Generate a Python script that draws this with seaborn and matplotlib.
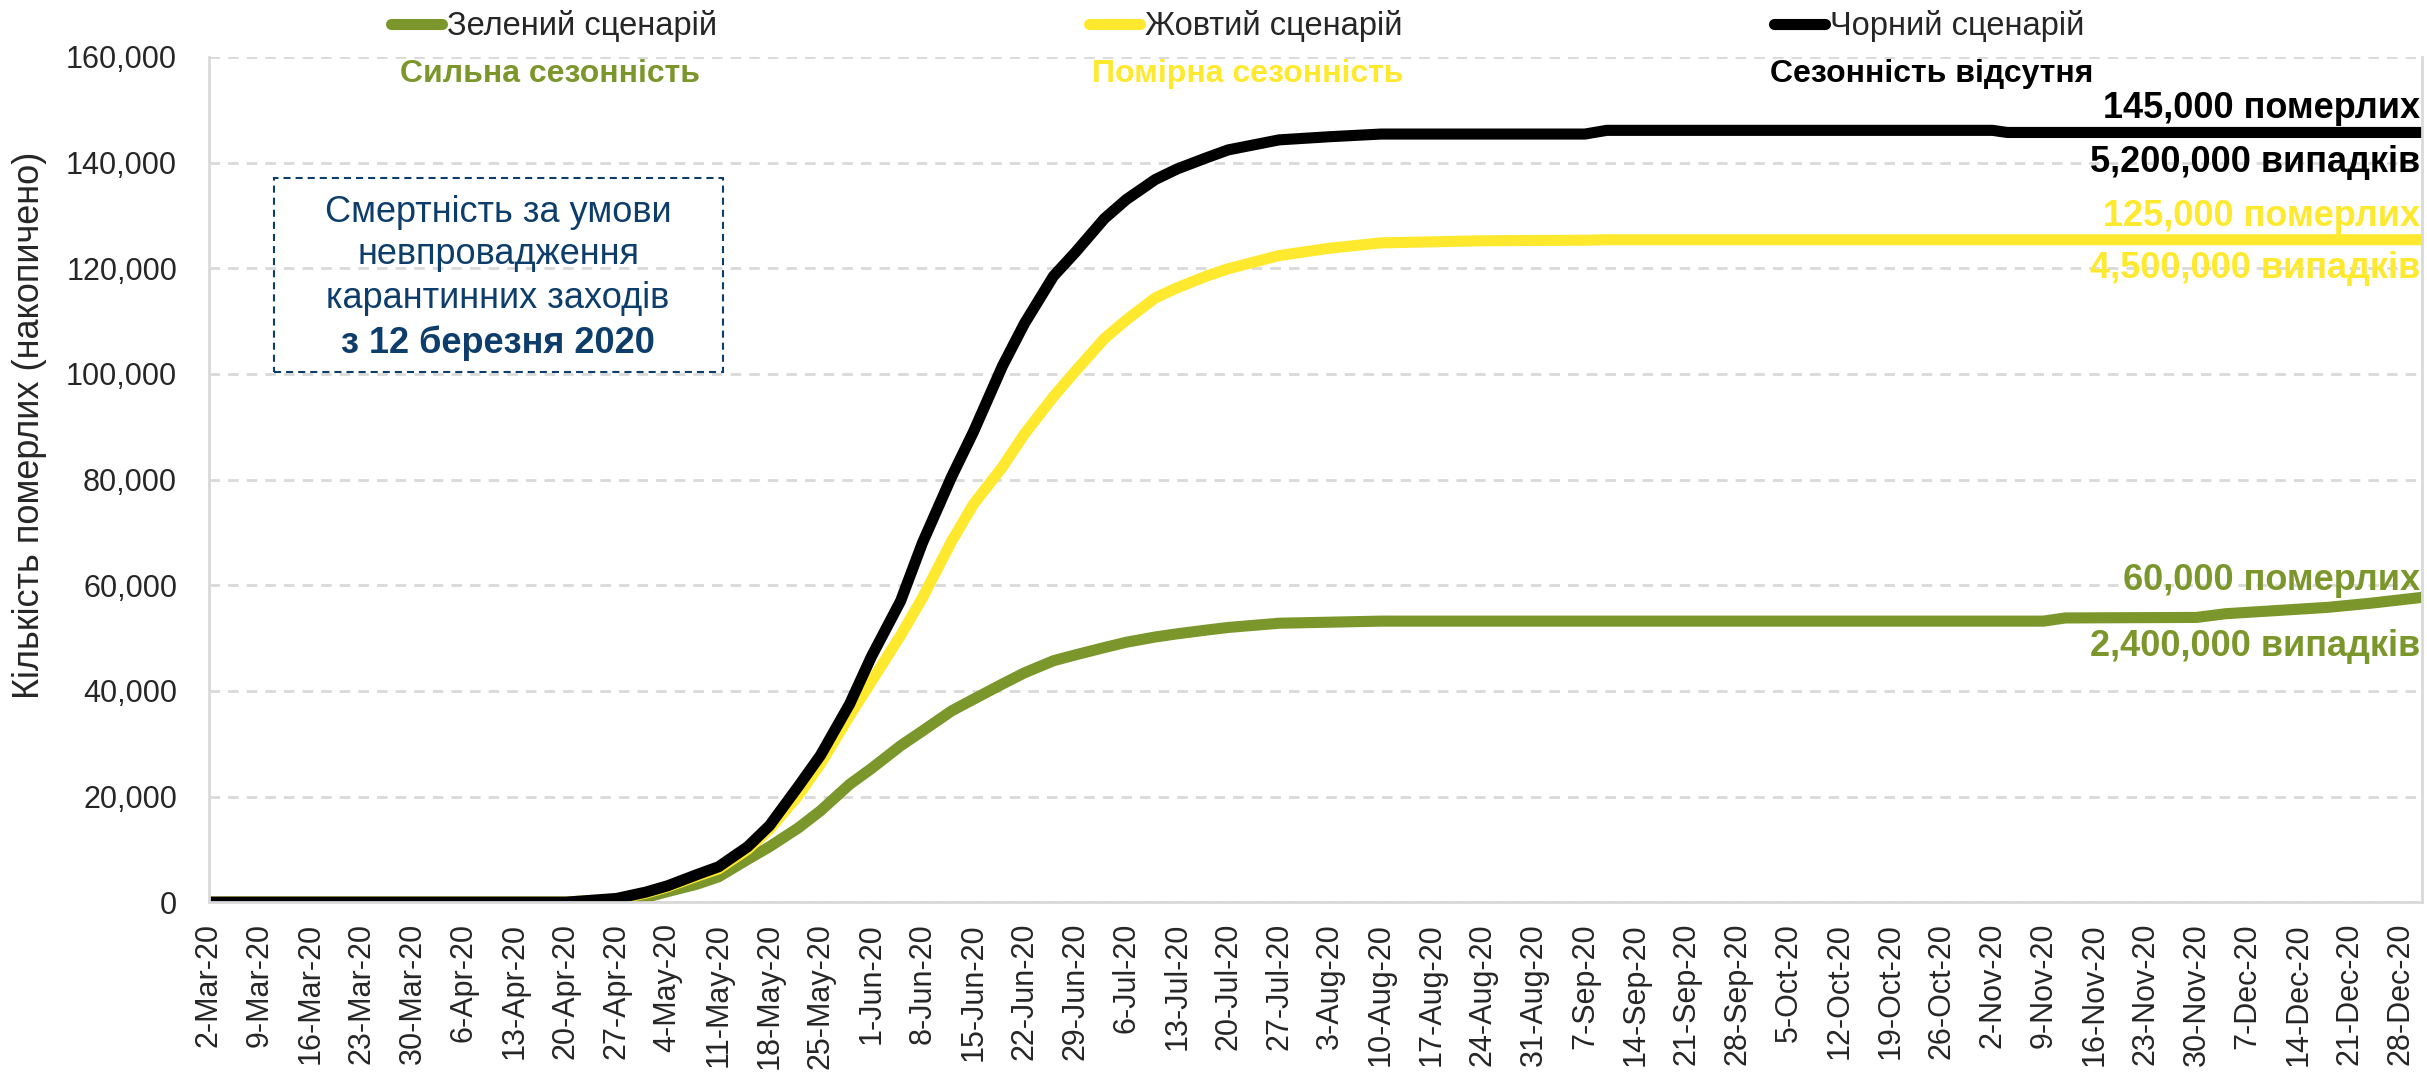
import pandas as pd
import matplotlib.pyplot as plt
import matplotlib.patches as mpatches
import seaborn as sns
from matplotlib.ticker import FuncFormatter, MultipleLocator

# Days counted from 2 March 2020
start_date = pd.Timestamp('2020-03-02')
day_offsets = [0, 49, 56, 60, 63, 67, 70, 74, 77, 81, 84, 88, 91, 95, 98,
               102, 105, 109, 112, 116, 119, 123, 126, 130, 133, 137, 140,
               147, 154, 161, 175, 189, 192, 245, 247, 252, 255, 273, 277,
               284, 291, 297, 304]

green_deaths = [0, 0, 200, 900, 2000, 3400, 4800, 8100, 10500, 14100, 17300,
                22300, 25300, 29600, 32400, 36200, 38400, 41300, 43400, 45700,
                46800, 48200, 49200, 50200, 50800, 51500, 52000, 52800, 53000,
                53200, 53200, 53200, 53200, 53200, 53200, 53200, 53800, 53900,
                54600, 55200, 55800, 56600, 57700]
yellow_deaths = [0, 0, 600, 1700, 2900, 4900, 6300, 10000, 13800, 20300, 26200,
                 35300, 41800, 50500, 57600, 68300, 75300, 82400, 88600, 95700,
                 100500, 106700, 110200, 114400, 116300, 118500, 119900, 122400,
                 123800, 124800, 125200, 125300, 125400, 125400, 125400, 125400,
                 125400, 125400, 125400, 125400, 125400, 125400, 125400]
black_deaths = [0, 0, 700, 1900, 3100, 5200, 6700, 10500, 14500, 22000, 27800,
                37500, 46500, 57000, 68000, 80500, 89000, 101500, 109500, 118500,
                123000, 129400, 133000, 136800, 138800, 140900, 142400, 144300,
                144900, 145400, 145400, 145400, 146100, 146100, 145700, 145700,
                145700, 145700, 145700, 145700, 145700, 145700, 145700]

scenarios = ['Зелений сценарій', 'Жовтий сценарій', 'Чорний сценарій']
subtitles = ['Сильна сезонність', 'Помірна сезонність', 'Сезонність відсутня']
deaths_labels = ['60,000 померлих', '125,000 померлих', '145,000 померлих']
cases_labels = ['2,400,000 випадків', '4,500,000 випадків', '5,200,000 випадків']
colors = ['#7B962B', '#FFE92E', '#000000']

dates = [start_date + pd.Timedelta(days=d) for d in day_offsets]
frames = []
for name, vals in zip(scenarios, [green_deaths, yellow_deaths, black_deaths]):
    frames.append(pd.DataFrame({'date': dates, 'deaths': vals, 'scenario': name}))
df = pd.concat(frames, ignore_index=True)

sns.set_style('white')
plt.rcParams['font.family'] = ['Liberation Sans', 'DejaVu Sans']

fig = plt.figure(figsize=(24.27, 10.74), dpi=100)
ax = fig.add_axes([0.0861, 0.160, 0.9119, 0.787])

sns.lineplot(data=df, x='date', y='deaths', hue='scenario', hue_order=scenarios,
             palette=colors, linewidth=8, ax=ax,
             solid_capstyle='round', solid_joinstyle='round')

# axes cosmetics
ax.set_xlim(start_date, pd.Timestamp('2020-12-31'))
ax.set_ylim(0, 160000)
ax.yaxis.set_major_locator(MultipleLocator(20000))
ax.yaxis.set_major_formatter(FuncFormatter(lambda v, p: f'{int(v):,}'))
ax.grid(axis='y', color='#D9D9D9', linewidth=2, linestyle=(0, (3.8, 2.9)))
ax.grid(axis='x', visible=False)
for side in ['left', 'bottom', 'right']:
    ax.spines[side].set_color('#D9D9D9')
    ax.spines[side].set_linewidth(2)
ax.spines['top'].set_visible(False)

tick_dates = pd.date_range('2020-03-02', '2020-12-28', freq='7D')
ax.set_xticks(tick_dates)
ax.set_xticklabels([f"{d.day}-{d.strftime('%b-%y')}" for d in tick_dates],
                   rotation=90, fontsize=22)
ax.tick_params(axis='x', length=0, pad=15)
ax.tick_params(axis='y', length=0, pad=23, labelsize=22)
ax.set_xlabel('')
ax.set_ylabel('Кількість померлих (накопичено)', fontsize=26)
ax.yaxis.set_label_coords(-0.073, 0.564)

# legend at the top
handles, labels = ax.get_legend_handles_labels()
ax.get_legend().remove()
leg = fig.legend(handles, labels, loc='center', bbox_to_anchor=(0.5099, 1 - 26 / 1074),
                 ncol=3, frameon=False, fontsize=23.5, handlelength=1.56,
                 handletextpad=0.15, columnspacing=11.4)
for h in leg.legend_handles:
    h.set_linewidth(8)
    h.set_solid_capstyle('round')

# subtitles under legend entries
sub_x = [550, 1248, 1932]
for x, txt, c in zip(sub_x, subtitles, colors):
    fig.text(x / 2427, 1 - 82 / 1074, txt, color=c, fontsize=23,
             fontweight='bold', ha='center', va='baseline')

# end-of-line annotations
for txt, yy, c in zip(deaths_labels + cases_labels,
                      [580, 216, 108, 647, 268, 162],
                      colors + colors):
    fig.text(2420 / 2427, 1 - yy / 1074, txt, color=c, fontsize=26,
             fontweight='bold', ha='right', va='center')

# dashed note box
box_color = '#0D3D6B'
rect = mpatches.Rectangle((274 / 2427, 1 - 372 / 1074), (723 - 274) / 2427,
                          (372 - 178) / 1074, transform=fig.transFigure,
                          fill=False, edgecolor=box_color, linewidth=1.5,
                          linestyle=(0, (3.4, 2.4)))
fig.patches.append(rect)
note_lines = ['Смертність за умови', 'невпровадження', 'карантинних заходів',
              'з 12 березня 2020']
for i, (line, yy) in enumerate(zip(note_lines, [213, 255, 298, 343])):
    fig.text(498 / 2427, 1 - yy / 1074, line, color=box_color, fontsize=26,
             fontweight='bold' if i == 3 else 'normal', ha='center', va='center')

fig.savefig('out.png', dpi=100)
plt.close(fig)
